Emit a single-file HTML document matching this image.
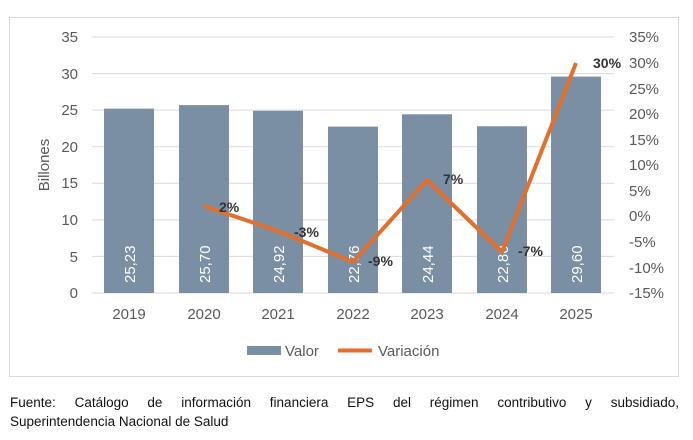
<!DOCTYPE html>
<html><head><meta charset="utf-8"><style>
body{margin:0;background:#fff;width:693px;height:440px;overflow:hidden;font-family:"Liberation Sans",sans-serif}
.l1{position:absolute;left:10px;top:393px;width:669px;font-size:13.5px;color:#111;text-align:justify;text-align-last:justify;line-height:19px;white-space:nowrap}
.l2{position:absolute;left:10px;top:412px;font-size:13.5px;color:#111;line-height:19px}
</style></head><body>
<svg width="693" height="440" style="position:absolute;left:0;top:0" font-family="Liberation Sans, sans-serif">
<rect x="9.5" y="17.5" width="669" height="359" fill="#fff" stroke="#d9d9d9"/>
<g stroke="#d9d9d9" stroke-width="1">
<line x1="92" x2="614" y1="37" y2="37"/><line x1="92" x2="614" y1="73.6" y2="73.6"/><line x1="92" x2="614" y1="110.1" y2="110.1"/><line x1="92" x2="614" y1="146.7" y2="146.7"/><line x1="92" x2="614" y1="183.3" y2="183.3"/><line x1="92" x2="614" y1="219.9" y2="219.9"/><line x1="92" x2="614" y1="256.4" y2="256.4"/><line x1="92" x2="614" y1="293" y2="293"/>
</g>
<g fill="#7a8fa3">
<rect x="104" y="108.6" width="50" height="184.4"/>
<rect x="179" y="105.1" width="50" height="187.9"/>
<rect x="253" y="110.8" width="50" height="182.2"/>
<rect x="328" y="126.6" width="50" height="166.4"/>
<rect x="402" y="114.3" width="50" height="178.7"/>
<rect x="477" y="126.3" width="50" height="166.7"/>
<rect x="551" y="76.6" width="50" height="216.4"/>
</g>
<g fill="#fff" font-size="15" text-anchor="start">
<text transform="translate(135,283) rotate(-90)">25,23</text>
<text transform="translate(210,283) rotate(-90)">25,70</text>
<text transform="translate(284,283) rotate(-90)">24,92</text>
<text transform="translate(359,283) rotate(-90)">22,76</text>
<text transform="translate(433,283) rotate(-90)">24,44</text>
<text transform="translate(508,283) rotate(-90)">22,80</text>
<text transform="translate(582,283) rotate(-90)">29,60</text>
</g>
<polyline points="204,206 278,231 353,262 427,180 502,252 576,63" fill="none" stroke="#e36f2c" stroke-width="4" stroke-linejoin="round"/>
<g fill="#333" font-size="14" font-weight="bold">
<text x="219" y="212">2%</text><text x="294" y="237">-3%</text><text x="368" y="266">-9%</text><text x="443" y="184">7%</text><text x="518" y="256">-7%</text><text x="593" y="68">30%</text>
</g>
<g fill="#595959" font-size="15" text-anchor="end">
<text x="78" y="42">35</text><text x="78" y="79">30</text><text x="78" y="115">25</text><text x="78" y="152">20</text><text x="78" y="188">15</text><text x="78" y="225">10</text><text x="78" y="262">5</text><text x="78" y="298">0</text>
</g>
<g fill="#595959" font-size="15">
<text x="629" y="42">35%</text><text x="629" y="68">30%</text><text x="629" y="94">25%</text><text x="629" y="119">20%</text><text x="629" y="145">15%</text><text x="629" y="170">10%</text><text x="629" y="196">5%</text><text x="629" y="221">0%</text><text x="629" y="247">-5%</text><text x="629" y="273">-10%</text><text x="629" y="298">-15%</text>
</g>
<g fill="#595959" font-size="15" text-anchor="middle">
<text x="129" y="319">2019</text><text x="204" y="319">2020</text><text x="278" y="319">2021</text><text x="353" y="319">2022</text><text x="427" y="319">2023</text><text x="502" y="319">2024</text><text x="576" y="319">2025</text>
</g>
<text transform="translate(49,165) rotate(-90)" fill="#595959" font-size="15" text-anchor="middle">Billones</text>
<rect x="247" y="346" width="34" height="9" fill="#7a8fa3"/>
<text x="285" y="356" fill="#595959" font-size="15">Valor</text>
<line x1="338" x2="372" y1="350.5" y2="350.5" stroke="#e36f2c" stroke-width="4"/>
<text x="378" y="356" fill="#595959" font-size="15">Variación</text>
</svg>
<div class="l1">Fuente: Catálogo de información financiera EPS del régimen contributivo y subsidiado,</div>
<div class="l2">Superintendencia Nacional de Salud</div>
</body></html>
